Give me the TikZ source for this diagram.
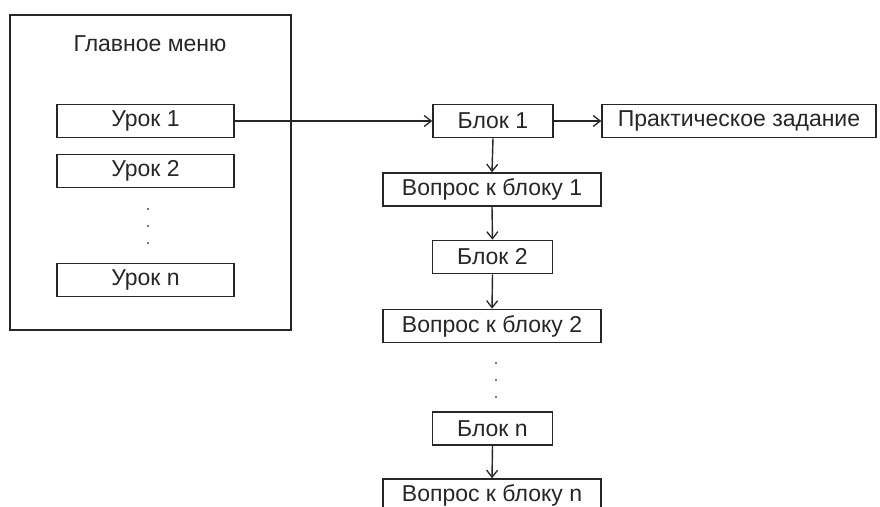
\documentclass[tikz,border=0pt]{standalone}
\usepackage{fontspec}
\setmainfont{Liberation Sans}
\usetikzlibrary{arrows.meta}
\begin{document}
\begin{tikzpicture}[x=1pt,y=-1pt,
  box/.style={draw=black!85,line width=1.6pt,minimum height=33pt,inner sep=0pt,font=\fontsize{23}{26}\selectfont,text=black!85},
  arr/.style={draw=black!85,line width=1.4pt,-{Straight Barb[length=7pt,width=11pt,line width=1.3pt]}},
  dotc/.style={fill=black!70,circle,inner sep=0pt,minimum size=2.2pt}]
\useasboundingbox (0,0) rectangle (880,506);
\node[draw=black!85,line width=1.8pt,minimum width=281pt,minimum height=315pt,inner sep=0pt] (menu) at (150.5,172.5) {};
\node[font=\fontsize{23}{26}\selectfont,text=black!85] (title) at (150,44) {Главное меню};
\node[box,minimum width=177pt] (u1) at (145.5,121) {Урок 1};
\node[box,minimum width=177pt] (u2) at (145.5,171) {Урок 2};
\node[dotc] (ud1) at (148,209) {};
\node[dotc] (ud2) at (148,226) {};
\node[dotc] (ud3) at (148,243) {};
\node[box,minimum width=177pt] (un) at (145.5,280) {Урок n};
\node[box,minimum width=120pt] (b1) at (493,121) {Блок 1};
\node[box,minimum width=274pt] (pr) at (739,121) {Практическое задание};
\node[box,minimum width=218pt] (q1) at (492,189.5) {Вопрос к блоку 1};
\node[box,minimum width=120pt] (b2) at (492.5,257) {Блок 2};
\node[box,minimum width=218pt] (q2) at (492,326) {Вопрос к блоку 2};
\node[dotc] (bd1) at (496,363) {};
\node[dotc] (bd2) at (496,380) {};
\node[dotc] (bd3) at (496,397) {};
\node[box,minimum width=120pt] (bn) at (492.5,428.5) {Блок n};
\node[box,minimum width=218pt] (qn) at (492,495.5) {Вопрос к блоку n};
\draw[arr] (u1.east) -- (b1.west);
\draw[arr] (b1.east) -- (pr.west);
\draw[arr] (b1.south) -- (q1.north);
\draw[arr] (q1.south) -- (b2.north);
\draw[arr] (b2.south) -- (q2.north);
\draw[arr] (bn.south) -- (qn.north);
\end{tikzpicture}
\end{document}
